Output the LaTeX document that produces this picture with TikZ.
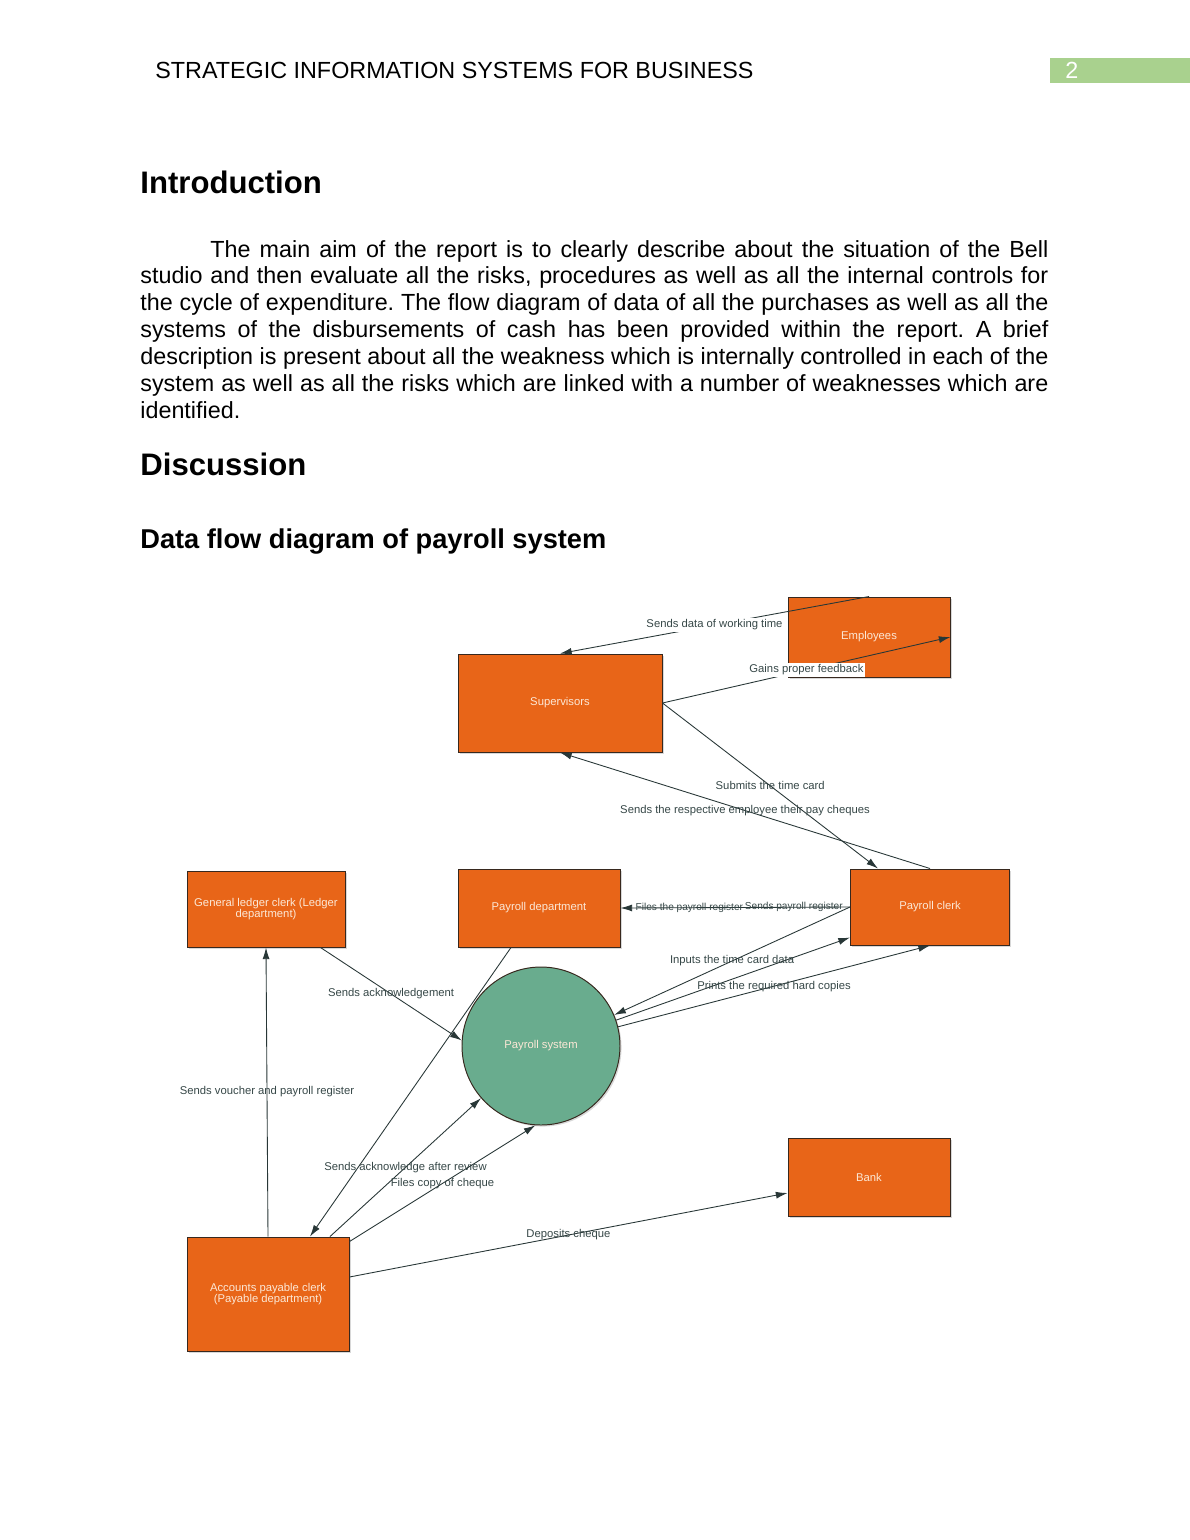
\documentclass[tikz,border=0pt]{standalone}
\usepackage{fontspec}
\setmainfont{Liberation Sans}
\usetikzlibrary{arrows.meta,shadows}
\newdimen\pxu \pxu=0.514286pt
\definecolor{boxor}{RGB}{232,101,24}
\definecolor{sysgr}{RGB}{105,172,142}
\definecolor{hdrgr}{RGB}{169,209,142}
\definecolor{lblc}{RGB}{55,72,72}
\definecolor{linec}{RGB}{40,55,55}
\definecolor{boxtxt}{RGB}{252,232,214}
\definecolor{boxedge}{RGB}{55,40,30}
\frenchspacing
\begin{document}
\begin{tikzpicture}[x=0.514286pt,y=-0.514286pt,
  box/.style={draw=boxedge, line width=0.5pt, fill=boxor, text=boxtxt,
    font=\fontsize{5.8}{5.9}\selectfont, align=center, inner sep=0pt,
    drop shadow={opacity=0.3, shadow xshift=0.8pt, shadow yshift=-0.8pt}},
  sysnode/.style={circle, draw=boxedge, line width=0.5pt, fill=sysgr, text=boxtxt,
    font=\fontsize{5.8}{5.9}\selectfont, inner sep=0pt,
    drop shadow={opacity=0.3, shadow xshift=0.8pt, shadow yshift=-0.8pt}},
  flow/.style={draw=linec, line width=0.45pt, -{Latex[length=6pt,width=3.6pt]}},
  lbl/.style={text=lblc, font=\fontsize{5.8}{5.9}\selectfont, inner sep=1pt},
  lblsm/.style={text=lblc, font=\fontsize{5.2}{5.4}\selectfont, inner sep=0.5pt},
  lblw/.style={lbl, fill=white},
  txt/.style={anchor=base west, inner sep=0pt},
  bodytxt/.style={txt, font=\fontsize{12}{13.8}\selectfont},
  hone/.style={txt, font=\fontsize{16}{18}\selectfont\bfseries},
  htwo/.style={txt, font=\fontsize{14}{16}\selectfont\bfseries}]
\useasboundingbox (0,0) rectangle (1190,1540);
\fill[white] (0,0) rectangle (1190,1540);

% header
\node[txt, font=\fontsize{12}{14}\selectfont] (hdr) at (155,78) {STRATEGIC INFORMATION SYSTEMS FOR BUSINESS};
\fill[hdrgr] (1050,58) rectangle (1190,83);
\node[txt, text=white, font=\fontsize{12}{14}\selectfont] (pgno) at (1065,78) {2};

% headings and text
\node[hone] (intro) at (140,193) {Introduction};
\node[bodytxt] (p1) at (210,257) {\makebox[838\pxu][s]{The main aim of the report is to clearly describe about the situation of the Bell}};
\node[bodytxt] (p2) at (140,283.8) {\makebox[908\pxu][s]{studio and then evaluate all the risks, procedures as well as all the internal controls for}};
\node[bodytxt] (p3) at (140,310.7) {\makebox[908\pxu][s]{the cycle of expenditure. The flow diagram of data of all the purchases as well as all the}};
\node[bodytxt] (p4) at (140,337.5) {\makebox[908\pxu][s]{systems of the disbursements of cash has been provided within the report. A brief}};
\node[bodytxt] (p5) at (140,364.3) {\makebox[908\pxu][s]{description is present about all the weakness which is internally controlled in each of the}};
\node[bodytxt] (p6) at (140,391.2) {\makebox[908\pxu][s]{system as well as all the risks which are linked with a number of weaknesses which are}};
\node[bodytxt] (p7) at (140,418) {identified.};
\node[hone] (disc) at (140,475) {Discussion};
\node[htwo] (dfd) at (140,548) {Data flow diagram of payroll system};

% diagram nodes
\node[box, minimum width={162*\pxu}, minimum height={80*\pxu}] (emp) at (869,637) {Employees};
\node[box, minimum width={204*\pxu}, minimum height={98*\pxu}] (sup) at (560,703) {Supervisors};
\node[box, minimum width={158*\pxu}, minimum height={76*\pxu}] (ledger) at (266,909) {General ledger clerk (Ledger\\department)};
\node[box, minimum width={162*\pxu}, minimum height={78*\pxu}] (pdept) at (539,908) {Payroll department};
\node[box, minimum width={159*\pxu}, minimum height={76*\pxu}] (clerk) at (930,907) {Payroll clerk};
\node[sysnode, minimum size={158*\pxu}] (ps) at (541,1046) {Payroll system};
\node[box, minimum width={162*\pxu}, minimum height={78*\pxu}] (bank) at (869,1177) {Bank};
\node[box, minimum width={162*\pxu}, minimum height={114*\pxu}] (apc) at (268,1294) {Accounts payable clerk\\(Payable department)};

% connectors
\draw[flow] (emp.north) -- node[lblw]{Sends data of working time} (sup.north);
\draw[flow] (sup.east) -- node[lblw]{Gains proper feedback} (emp.east);
\draw[flow] (sup.east) -- node[lbl]{Submits the time card} ([xshift={-52*\pxu}]clerk.north);
\draw[flow] (clerk.north) -- node[lbl]{Sends the respective employee their pay cheques} (sup.south);
\draw[flow] (clerk.west) -- node[lblsm,pos=0.70]{Files the payroll register} node[lblsm,pos=0.245]{Sends payroll register} (pdept.east);
\draw[flow] (clerk.west) -- node[lbl]{Inputs the time card data} (ps.23);
\draw[flow] (ps.19) -- ([yshift={8*\pxu}]clerk.south west);
\draw[flow] (ps.14) -- node[lbl]{Prints the required hard copies} (clerk.south);
\draw[flow] ([xshift={-25*\pxu}]ledger.south east) -- node[lbl]{Sends acknowledgement} (ps.176);
\draw[flow] ([xshift={-28*\pxu}]pdept.south) -- ([xshift={42*\pxu}]apc.north);
\draw[flow] ([xshift={62*\pxu}]apc.north) -- node[lbl]{Sends acknowledge after review} (ps.221);
\draw[flow] ([yshift={-5*\pxu}]apc.north east) -- node[lbl]{Files copy of cheque} (ps.266);
\draw[flow] ([yshift={17*\pxu}]apc.east) -- node[lbl]{Deposits cheque} ([yshift={-16*\pxu}]bank.west);
\draw[flow] (apc.north) -- node[lbl]{Sends voucher and payroll register} (ledger.south);
\end{tikzpicture}
\end{document}
